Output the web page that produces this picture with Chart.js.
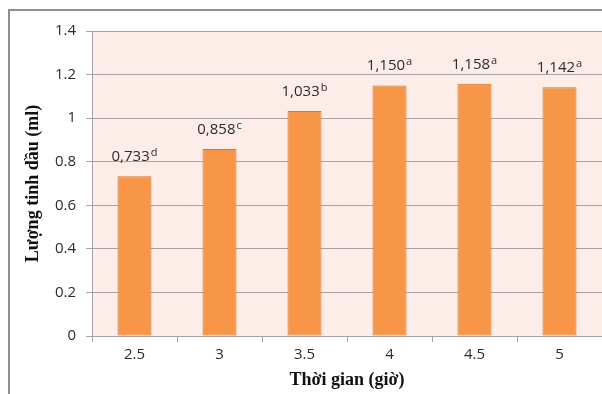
<!DOCTYPE html>
<html>
<head>
<meta charset="utf-8">
<script src="https://cdn.jsdelivr.net/npm/chart.js@4"></script>
<style>
  html, body { margin: 0; padding: 0; background: #fff; overflow: hidden; }
  #wrap { width: 602px; height: 394px; position: relative; }
</style>
</head>
<body>
<div id="wrap"><canvas id="oilChart" width="602" height="394"></canvas></div>
<script>
const hours = ['2.5', '3', '3.5', '4', '4.5', '5']
const oilVolume = [0.733, 0.858, 1.033, 1.150, 1.158, 1.142]
const groupLetters = ['d', 'c', 'b', 'a', 'a', 'a']
const yTicks = [0, 0.2, 0.4, 0.6, 0.8, 1, 1.2, 1.4]

const tickFont = { family: 'Open Sans', size: 15 }
const titleFont = { family: 'Liberation Serif', size: 18, weight: 'bold' }
const gridColor = '#a3a3a3'

// white page, outer frame and tinted plot area
const backdrop = {
  id: 'backdrop',
  beforeDraw(chart) {
    const { ctx, chartArea } = chart
    ctx.save()
    ctx.fillStyle = '#fff'
    ctx.fillRect(0, 0, chart.width, chart.height)
    ctx.strokeStyle = '#8e8e8e'
    ctx.lineWidth = 2
    ctx.beginPath()
    ctx.moveTo(9, chart.height + 2)
    ctx.lineTo(9, 10)
    ctx.lineTo(chart.width + 2, 10)
    ctx.stroke()
    ctx.fillStyle = '#fcede8'
    ctx.fillRect(chartArea.left, chartArea.top, chartArea.right - chartArea.left, chartArea.bottom - chartArea.top)
    ctx.restore()
  }
}

// value labels with a superscript group letter above each bar
const valueLabels = {
  id: 'valueLabels',
  afterDatasetsDraw(chart) {
    const { ctx } = chart
    const bars = chart.getDatasetMeta(0).data
    ctx.save()
    ctx.fillStyle = '#2b2b2b'
    ctx.textBaseline = 'alphabetic'
    bars.forEach((bar, i) => {
      const main = oilVolume[i].toFixed(3).replace('.', ',')
      const sup = groupLetters[i]
      ctx.font = '15px "Open Sans"'
      const mainW = ctx.measureText(main).width
      ctx.font = '11px "Open Sans"'
      const supW = ctx.measureText(sup).width
      const x0 = bar.x - (mainW + supW + 1) / 2
      const y = bar.y - 15
      ctx.font = '15px "Open Sans"'
      ctx.textAlign = 'left'
      ctx.fillText(main, x0, y)
      ctx.font = '11px "Open Sans"'
      ctx.fillText(sup, x0 + mainW + 1, y - 5)
    })
    ctx.restore()
  }
}

const ctx = document.getElementById('oilChart').getContext('2d')
new Chart(ctx, {
  type: 'bar',
  data: {
    labels: hours,
    datasets: [{
      data: oilVolume,
      backgroundColor: '#f79646',
      borderColor: '#dc742c',
      borderWidth: 1,
      borderSkipped: false,
      categoryPercentage: 1,
      barPercentage: 0.4
    }]
  },
  options: {
    responsive: false,
    animation: false,
    layout: { padding: { left: 9, top: 31, right: 0, bottom: 0 } },
    plugins: {
      legend: { display: false },
      tooltip: { enabled: false }
    },
    scales: {
      x: {
        afterFit(scale) { scale.height = 58 },
        grid: { drawOnChartArea: false, drawTicks: true, tickLength: 6, color: gridColor },
        border: { color: gridColor },
        ticks: { font: tickFont, color: '#2b2b2b', padding: 4 },
        title: {
          display: true,
          text: 'Thời gian (giờ)',
          font: titleFont,
          color: '#111',
          padding: { top: 0, bottom: 3 }
        }
      },
      y: {
        min: 0,
        max: 1.4,
        afterFit(scale) { scale.width = 83 },
        afterBuildTicks(scale) { scale.ticks = yTicks.map(v => ({ value: v })) },
        grid: { color: gridColor, tickLength: 6 },
        border: { color: gridColor },
        ticks: {
          font: tickFont,
          color: '#2b2b2b',
          padding: 10,
          callback: v => String(v)
        },
        title: {
          display: true,
          text: 'Lượng tinh dầu (ml)',
          font: titleFont,
          color: '#111',
          padding: { top: 14, bottom: 0 }
        }
      }
    }
  },
  plugins: [backdrop, valueLabels]
})
</script>
</body>
</html>
